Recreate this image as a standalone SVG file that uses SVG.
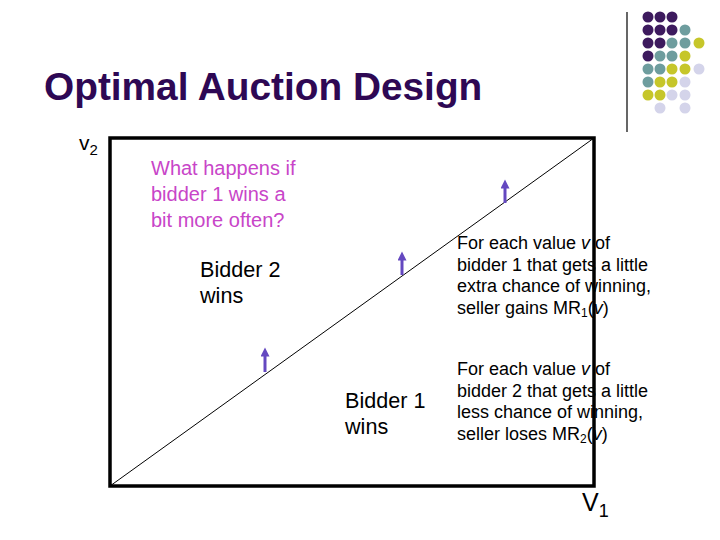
<svg xmlns="http://www.w3.org/2000/svg" width="720" height="540" viewBox="0 0 720 540">
<defs>
<style>
.t{font-family:"Liberation Sans",Arial,sans-serif;fill:#000}
.title{font-family:"Liberation Sans",Arial,sans-serif;font-weight:bold;font-size:38.8px;fill:#2E0854}
.pink{font-family:"Liberation Sans",Arial,sans-serif;font-size:20px;fill:#C845C8}
.lbl{font-size:21.6px}
.note{font-size:18px}
.p{fill:#3D1A5E}.g{fill:#6E9D9E}.y{fill:#C6C62A}.l{fill:#D4D4EA}
.arr{stroke:#6448C0;stroke-width:3}
</style>
<marker id="ah" viewBox="0 0 10 10" refX="5" refY="5" markerWidth="3.2" markerHeight="3" orient="auto" markerUnits="strokeWidth">
<path d="M0,0 L10,5 L0,10 Z" fill="#6448C0"/>
</marker>
</defs>
<rect width="720" height="540" fill="#fff"/>
<g id="decor">
<line x1="627" y1="12" x2="627" y2="132" stroke="#000" stroke-width="1.2"/>
<circle class="p" cx="648" cy="17" r="5.5"/><circle class="p" cx="660" cy="17" r="5.5"/><circle class="p" cx="672" cy="17" r="5.5"/>
<circle class="p" cx="648" cy="30" r="5.5"/><circle class="p" cx="660" cy="30" r="5.5"/><circle class="p" cx="672" cy="30" r="5.5"/><circle class="g" cx="685" cy="30" r="5.5"/>
<circle class="p" cx="648" cy="43" r="5.5"/><circle class="p" cx="660" cy="43" r="5.5"/><circle class="g" cx="672" cy="43" r="5.5"/><circle class="g" cx="685" cy="43" r="5.5"/><circle class="y" cx="699" cy="43" r="5.5"/>
<circle class="p" cx="648" cy="56" r="5.5"/><circle class="g" cx="660" cy="56" r="5.5"/><circle class="g" cx="672" cy="56" r="5.5"/><circle class="y" cx="685" cy="56" r="5.5"/>
<circle class="g" cx="648" cy="69" r="5.5"/><circle class="g" cx="660" cy="69" r="5.5"/><circle class="y" cx="672" cy="69" r="5.5"/><circle class="y" cx="685" cy="69" r="5.5"/><circle class="l" cx="699" cy="69" r="5.5"/>
<circle class="g" cx="648" cy="82" r="5.5"/><circle class="y" cx="660" cy="82" r="5.5"/><circle class="y" cx="672" cy="82" r="5.5"/><circle class="l" cx="685" cy="82" r="5.5"/>
<circle class="y" cx="648" cy="95" r="5.5"/><circle class="y" cx="660" cy="95" r="5.5"/><circle class="l" cx="672" cy="95" r="5.5"/><circle class="l" cx="685" cy="95" r="5.5"/>
<circle class="l" cx="660" cy="108" r="5.5"/><circle class="l" cx="685" cy="108" r="5.5"/>
</g>
<text id="title" class="title" x="44" y="100">Optimal Auction Design</text>
<g id="axes">
<rect x="110" y="138" width="484" height="348" fill="none" stroke="#000" stroke-width="3.5"/>
<text class="t" x="79" y="150" font-size="21">v<tspan font-size="15" dy="5">2</tspan></text>
<text class="t" x="582" y="511" font-size="25">V<tspan font-size="18" dy="6">1</tspan></text>
</g>
<g id="connectors">
<line x1="110" y1="486" x2="594" y2="138" stroke="#000" stroke-width="1"/>
<line class="arr" x1="505" y1="203" x2="505" y2="184" marker-end="url(#ah)"/>
<line class="arr" x1="402" y1="275" x2="402" y2="256" marker-end="url(#ah)"/>
<line class="arr" x1="265" y1="372" x2="265" y2="352" marker-end="url(#ah)"/>
</g>
<g id="question">
<text class="pink" x="151" y="175">What happens if</text>
<text class="pink" x="151" y="201">bidder 1 wins a</text>
<text class="pink" x="151" y="227">bit more often?</text>
</g>
<g id="bidder2">
<text class="t lbl" x="200" y="277">Bidder 2</text>
<text class="t lbl" x="200" y="303">wins</text>
</g>
<g id="bidder1">
<text class="t lbl" x="345" y="408">Bidder 1</text>
<text class="t lbl" x="345" y="434">wins</text>
</g>
<g id="gain">
<text class="t note" x="457" y="249">For each value <tspan font-style="italic">v</tspan> of</text>
<text class="t note" x="457" y="271">bidder 1 that gets a little</text>
<text class="t note" x="457" y="292">extra chance of winning,</text>
<text class="t note" x="457" y="314">seller gains MR<tspan font-size="12" dy="3">1</tspan><tspan dy="-3">(</tspan><tspan font-style="italic">v</tspan>)</text>
</g>
<g id="loss">
<text class="t note" x="457" y="375">For each value <tspan font-style="italic">v</tspan> of</text>
<text class="t note" x="457" y="397">bidder 2 that gets a little</text>
<text class="t note" x="457" y="418">less chance of winning,</text>
<text class="t note" x="457" y="440">seller loses MR<tspan font-size="12" dy="3">2</tspan><tspan dy="-3">(</tspan><tspan font-style="italic">v</tspan>)</text>
</g>
</svg>
